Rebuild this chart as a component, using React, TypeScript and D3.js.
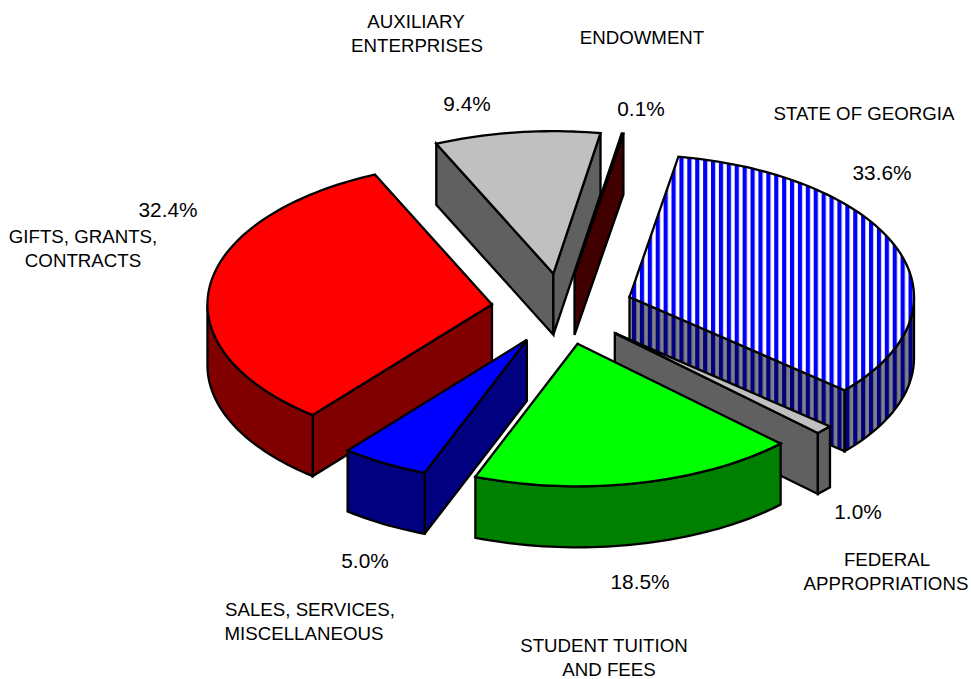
import React from "react";
import * as d3 from "d3";

const categories = ["State of Georgia", "Federal Appropriations", "Student Tuition and Fees", "Sales, Services, Miscellaneous", "Gifts, Grants, Contracts", "Auxiliary Enterprises", "Endowment"];
const values = [33.6, 1.0, 18.5, 5.0, 32.4, 9.4, 0.1];
const topColors = ["url(#stripeTop)", "#c0c0c0", "#00ff00", "#0000ff", "#ff0000", "#c0c0c0", "#800000"];
const sideColors = ["url(#stripeSide)", "#606060", "#008000", "#000080", "#800000", "#606060", "#400000"];
const drawOrder = [5, 6, 0, 4, 1, 3, 2];
const pctLabels = [
  { t: "33.6%", x: 882, y: 180 },
  { t: "1.0%", x: 858, y: 519 },
  { t: "18.5%", x: 640, y: 589 },
  { t: "5.0%", x: 365, y: 568 },
  { t: "32.4%", x: 168, y: 217 },
  { t: "9.4%", x: 467, y: 111 },
  { t: "0.1%", x: 641, y: 116 },
];
const nameLabels = [
  { lines: ["AUXILIARY", "ENTERPRISES"], xs: [416, 417], y: 28 },
  { lines: ["ENDOWMENT"], xs: [642], y: 44 },
  { lines: ["STATE OF GEORGIA"], xs: [864], y: 120 },
  { lines: ["GIFTS, GRANTS,", "CONTRACTS"], xs: [83, 83], y: 243 },
  { lines: ["FEDERAL", "APPROPRIATIONS"], xs: [887, 886], y: 566 },
  { lines: ["SALES, SERVICES,", "MISCELLANEOUS"], xs: [310, 304], y: 616 },
  { lines: ["STUDENT TUITION", "AND FEES"], xs: [604, 609], y: 652 },
];

const W = 971, H = 679;
const cx = 562.5, cy = 309, rx = 284.5, ry = 142.5, depth = 61, explode = 0.25;
const start = (9.9 * Math.PI) / 180;
const TAU = 2 * Math.PI;

const arcs = d3.pie<number>().sort(null).startAngle(start).endAngle(start + TAU)(values);
const line = d3.line<[number, number]>();
type Pt = [number, number];

function App() {
  const slices = arcs.map((a) => {
    const mid = (a.startAngle + a.endAngle) / 2;
    const ax = cx + explode * rx * Math.sin(mid);
    const ay = cy - explode * ry * Math.cos(mid);
    const at = (t: number): Pt => [ax + rx * Math.sin(t), ay - ry * Math.cos(t)];
    const down = (p: Pt): Pt => [p[0], p[1] + depth];
    const n = Math.max(2, Math.ceil((a.endAngle - a.startAngle) * 40));
    const rim: Pt[] = d3.range(n + 1).map((i) => at(a.startAngle + ((a.endAngle - a.startAngle) * i) / n));
    const apex: Pt = [ax, ay];
    const first = rim[0], last = rim[n], m = at(mid);
    const wallVisible = (p: Pt) => {
      const yOnEdge = ay + ((p[1] - ay) / (p[0] - ax)) * (m[0] - ax);
      return yOnEdge > m[1];
    };
    const lo = Math.max(a.startAngle, Math.PI / 2);
    const hi = Math.min(a.endAngle, (3 * Math.PI) / 2);
    let outer: string | null = null;
    if (hi > lo) {
      const k = Math.ceil((hi - lo) * 40);
      const front: Pt[] = d3.range(k + 1).map((i) => at(lo + ((hi - lo) * i) / k));
      outer = line([...front, ...front.slice().reverse().map(down)])! + "Z";
    }
    return {
      top: line([apex, ...rim])! + "Z",
      wallA: wallVisible(first) ? line([apex, first, down(first), down(apex)])! + "Z" : null,
      wallB: wallVisible(last) ? line([apex, last, down(last), down(apex)])! + "Z" : null,
      outer,
    };
  });
  return (
    <svg width={W} height={H} style={{ position: "absolute", left: 0, top: 0, background: "#fff" }} fontFamily="'Liberation Sans', Arial, sans-serif">
      <defs>
        <pattern id="stripeTop" patternUnits="userSpaceOnUse" width={7.9} height={10}>
          <rect width={7.9} height={10} fill="#fff" />
          <rect width={4.2} height={10} fill="#0000ff" />
        </pattern>
        <pattern id="stripeSide" patternUnits="userSpaceOnUse" width={7.9} height={10}>
          <rect width={7.9} height={10} fill="#808080" />
          <rect width={4.2} height={10} fill="#000080" />
        </pattern>
      </defs>
      {drawOrder.map((i) => (
        <g key={categories[i]} stroke="#000" strokeWidth={2.3} strokeLinejoin="miter" strokeMiterlimit={3}>
          {slices[i].wallA && <path d={slices[i].wallA!} fill={sideColors[i]} />}
          {slices[i].wallB && <path d={slices[i].wallB!} fill={sideColors[i]} />}
          {slices[i].outer && <path d={slices[i].outer!} fill={sideColors[i]} />}
          <path d={slices[i].top} fill={topColors[i]} />
        </g>
      ))}
      <g fontSize={18.7} textAnchor="middle" fill="#000">
        {pctLabels.map((l) => (
          <text key={l.t} x={l.x} y={l.y} fontSize={20.8}>{l.t}</text>
        ))}
        {nameLabels.map((l) => (
          <text key={l.lines[0]} y={l.y}>
            {l.lines.map((s, i) => (
              <tspan key={s} x={l.xs[i]} dy={i === 0 ? 0 : 24}>{s}</tspan>
            ))}
          </text>
        ))}
      </g>
    </svg>
  );
}

export default App;
